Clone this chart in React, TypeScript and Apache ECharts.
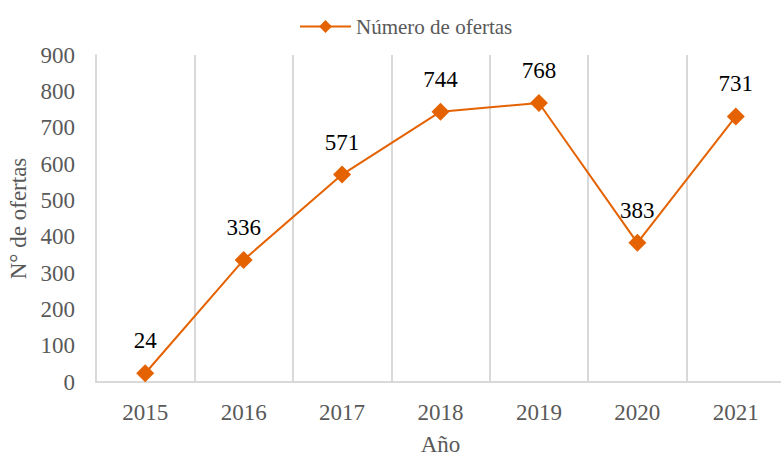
import React, { useEffect, useRef } from "react";
import * as echarts from "echarts";

const years = ["2015", "2016", "2017", "2018", "2019", "2020", "2021"];
const offers = [24, 336, 571, 744, 768, 383, 731];
const seriesName = "Número de ofertas";
const yTicks = { min: 0, max: 900, interval: 100 };

export default function App() {
  const ref = useRef<HTMLDivElement>(null);
  useEffect(() => {
    if (!ref.current) return;
    const chart = echarts.init(ref.current, undefined, { renderer: "svg" });
    const font = "'Liberation Serif', 'Times New Roman', serif";
    const orange = "#E46200";
    chart.setOption({
      animation: false,
      textStyle: { fontFamily: font },
      legend: {
        top: 11,
        left: 294,
        itemWidth: 51,
        itemHeight: 16,
        textStyle: { fontFamily: font, fontSize: 21, color: "#595959" },
        data: [seriesName],
      },
      grid: {
        left: 96,
        right: -4,
        top: 55,
        bottom: 75,
        containLabel: false,
        outerBoundsMode: "none",
      },
      xAxis: {
        type: "category",
        data: years,
        boundaryGap: true,
        name: "Año",
        nameLocation: "middle",
        nameGap: 51,
        nameTextStyle: { fontFamily: font, fontSize: 23, color: "#595959" },
        axisLine: { show: true, lineStyle: { color: "#D9D9D9", width: 2 } },
        axisTick: { show: false },
        axisLabel: { fontFamily: font, fontSize: 23, color: "#595959", margin: 19 },
        splitLine: { show: true, lineStyle: { color: "#D9D9D9", width: 2 } },
      },
      yAxis: {
        type: "value",
        min: yTicks.min,
        max: yTicks.max,
        interval: yTicks.interval,
        name: "N° de ofertas",
        nameLocation: "middle",
        nameGap: 60,
        nameTextStyle: { fontFamily: font, fontSize: 23, color: "#595959" },
        axisLine: { show: true, lineStyle: { color: "#D9D9D9", width: 2 } },
        axisTick: { show: false },
        axisLabel: { fontFamily: font, fontSize: 23, color: "#595959", margin: 21 },
        splitLine: { show: false },
      },
      series: [
        {
          name: seriesName,
          type: "line",
          data: offers,
          symbol: "diamond",
          symbolSize: 18,
          lineStyle: { color: orange, width: 2 },
          itemStyle: { color: orange },
          label: {
            show: true,
            position: "top",
            distance: 12,
            fontFamily: font,
            fontSize: 23,
            color: "#000000",
          },
        },
      ],
    });
    return () => chart.dispose();
  }, []);
  return (
    <div
      ref={ref}
      style={{ position: "fixed", left: 0, top: 0, width: 781, height: 457, background: "#fff" }}
    />
  );
}
